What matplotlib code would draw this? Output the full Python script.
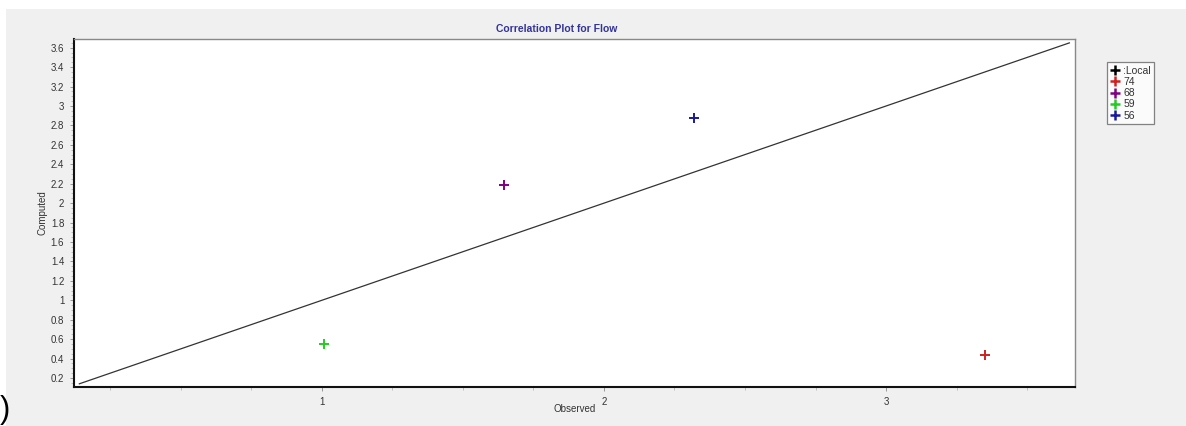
import matplotlib
matplotlib.use("Agg")
import matplotlib.pyplot as plt
from matplotlib.lines import Line2D
from matplotlib.ticker import MultipleLocator, FixedLocator
import numpy as np

plt.rcParams['font.family'] = ['Liberation Sans', 'DejaVu Sans']

# Data
series_labels = [":Local", "74", "68", "59", "56"]
series_colors = ["#000000", "#cc2222", "#800080", "#22cc22", "#1a1a99"]
observed = [None, 3.351, 1.645, 1.007, 2.319]
computed = [None, 0.437, 2.19, 0.545, 2.88]
line_range = [0.14, 3.65]

W, H = 1186, 426
fig = plt.figure(figsize=(W / 100, H / 100), dpi=100)
fig.patch.set_facecolor("white")

# gray panel background
bg = fig.add_axes([6 / W, 0, 1 - 6 / W, 1 - 9 / H])
bg.set_facecolor("#f0f0f0")
bg.set_xticks([]); bg.set_yticks([])
for s in bg.spines.values():
    s.set_visible(False)
bg.set_zorder(-5)

x0, x1 = 74, 1075
y0, y1 = 39, 387
ax = fig.add_axes([x0 / W, 1 - y1 / H, (x1 - x0) / W, (y1 - y0) / H])
ax.set_facecolor("white")
ax.set_xlim(0.121, 3.67)
ax.set_ylim(0.107, 3.69)

# 1:1 line
ax.plot(line_range, line_range, color="#333333", lw=0.9)

# points
for lab, c, xv, yv in zip(series_labels, series_colors, observed, computed):
    if xv is not None:
        ax.plot([xv], [yv], marker="+", color=c, markersize=6.5, mew=1.4, ls="none")

ax.xaxis.set_major_locator(FixedLocator([1, 2, 3]))
ax.xaxis.set_minor_locator(MultipleLocator(0.25))
ax.yaxis.set_major_locator(MultipleLocator(0.2))
ax.yaxis.set_minor_locator(MultipleLocator(0.05))
ax.set_xticklabels(["1", "2", "3"])
ax.set_yticks(np.arange(0.2, 3.61, 0.2))
ax.set_yticklabels([f"{v:.1f}".rstrip("0").rstrip(".") for v in np.arange(0.2, 3.61, 0.2)])
ax.tick_params(axis="both", which="major", direction="out", length=3, width=0.6,
               color="#888888", labelsize=7, labelcolor="#333333", pad=4)
ax.tick_params(axis="both", which="minor", direction="out", length=2, width=0.5, color="#aaaaaa")

ax.spines["left"].set_color("#111111"); ax.spines["left"].set_linewidth(1.5)
ax.spines["bottom"].set_color("#111111"); ax.spines["bottom"].set_linewidth(1.5)
ax.spines["top"].set_color("#888888"); ax.spines["top"].set_linewidth(1.0)
ax.spines["right"].set_color("#888888"); ax.spines["right"].set_linewidth(1.0)

fig.text(575 / W, 1 - 409 / H, "Observed", ha="center", va="center", fontsize=7, color="#333333")
fig.text(42 / W, 1 - 213 / H, "Computed", ha="center", va="center", rotation=90, fontsize=7, color="#333333")
fig.text(557 / W, 1 - 29 / H, "Correlation Plot for Flow", ha="center", va="center",
         fontsize=7.5, fontweight="bold", color="#333399")

# legend
handles = [Line2D([], [], marker="+", color=c, ls="none", markersize=7, mew=1.8) for c in series_colors]
leg = fig.legend(handles, series_labels, loc="upper left", bbox_to_anchor=(1107 / W, 1 - 62 / H),
                 fontsize=7.5, frameon=True, fancybox=False, handlelength=0.8, handletextpad=0.4,
                 borderpad=0.35, labelspacing=0.12, borderaxespad=0)
leg.get_frame().set_edgecolor("#666666")
leg.get_frame().set_linewidth(0.9)
leg.get_frame().set_facecolor("white")
for t in leg.get_texts():
    t.set_color("#333333")

fig.text(0 / W, 1 - 410 / H, ")", ha="left", va="center", fontsize=22, color="black")

fig.savefig("out.png", dpi=100)
